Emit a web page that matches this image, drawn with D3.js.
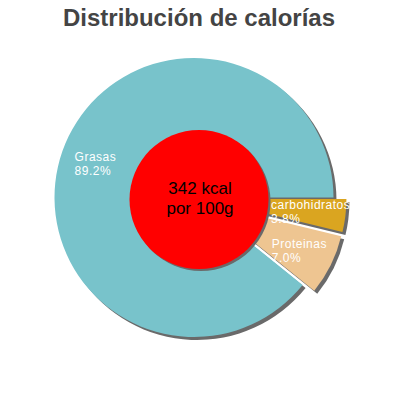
<!DOCTYPE html>
<html lang="es">
<head>
<meta charset="utf-8">
<title>Distribución de calorías</title>
<script src="https://cdnjs.cloudflare.com/ajax/libs/d3/7.8.5/d3.min.js"></script>
<style>
  body { margin: 0; background: #fff; }
  text { font-family: "Liberation Sans", Arial, sans-serif; }
</style>
</head>
<body>
<script>
// data, clockwise from 3 o'clock
var categories = ["carbohidratos", "Proteinas", "Grasas"];
var values = [3.8, 7.0, 89.2];
var colors = ["#daa520", "#eec591", "#78c3cb"];
var title = "Distribución de calorías";
var centerLines = ["342 kcal", "por 100g"];

var w = 400, h = 400;
var cx = 194, cy = 197.5, r = 139.5, rInner = 69.5;
var explode = 13;
var shadow = 3;

var svg = d3.select("body").append("svg")
    .attr("width", w)
    .attr("height", h);

svg.append("text")
    .attr("x", 199)
    .attr("y", 26)
    .attr("text-anchor", "middle")
    .attr("font-size", 24)
    .attr("font-weight", "bold")
    .attr("fill", "#444")
    .text(title);

var pie = d3.pie().sort(null)
    .startAngle(Math.PI / 2)
    .endAngle(Math.PI / 2 + 2 * Math.PI);
var arcs = pie(values);

var arc = d3.arc().innerRadius(0).outerRadius(r);
var labelArc = d3.arc().innerRadius(rInner).outerRadius(r);

var maxV = d3.max(values);
function offset(d) {
    if (d.value === maxV) return [0, 0];
    var a = (d.startAngle + d.endAngle) / 2 - Math.PI / 2;
    return [explode * Math.cos(a), explode * Math.sin(a)];
}

var g = svg.append("g").attr("transform", "translate(" + cx + "," + cy + ")");

// shadows
g.selectAll("path.shadow")
    .data(arcs)
    .enter()
    .append("path")
    .attr("class", "shadow")
    .attr("d", arc)
    .attr("fill", "#6a6a6a")
    .attr("transform", function(d) {
        var o = offset(d);
        return "translate(" + (o[0] + shadow) + "," + (o[1] + shadow) + ")";
    });

g.selectAll("path.slice")
    .data(arcs)
    .enter()
    .append("path")
    .attr("class", "slice")
    .attr("d", arc)
    .attr("fill", function(d, i) { return colors[i]; })
    .attr("transform", function(d) {
        var o = offset(d);
        return "translate(" + o[0] + "," + o[1] + ")";
    });

// labels: left aligned, first line centred on the slice centroid
var lab = g.selectAll("text.lab")
    .data(arcs)
    .enter()
    .append("text")
    .attr("class", "lab")
    .attr("font-size", 12)
    .attr("letter-spacing", 0.5)
    .attr("fill", "#fff")
    .attr("transform", function(d) {
        var o = offset(d), c = labelArc.centroid(d);
        return "translate(" + (c[0] + o[0]) + "," + (c[1] + o[1]) + ")";
    });
lab.append("tspan").attr("class", "name").attr("y", -2)
    .text(function(d, i) { return categories[i]; });
lab.append("tspan").attr("class", "pct").attr("y", 12)
    .text(function(d) { return d.value.toFixed(1) + "%"; });
lab.each(function() {
    var t = d3.select(this);
    var half = t.select("tspan.name").node().getComputedTextLength() / 2;
    t.selectAll("tspan").attr("x", -half);
});

// centre disc
g.append("circle")
    .attr("cx", 5 + 2).attr("cy", 2 + 2).attr("r", rInner)
    .attr("fill", "#6a6a6a");
g.append("circle")
    .attr("cx", 5).attr("cy", 2).attr("r", rInner)
    .attr("fill", "#ff0000");

g.append("text")
    .attr("text-anchor", "middle")
    .attr("font-size", 17)
    .attr("fill", "#000")
    .selectAll("tspan")
    .data(centerLines)
    .enter()
    .append("tspan")
    .attr("x", 6)
    .attr("y", function(d, i) { return -3.5 + i * 19.5; })
    .text(function(d) { return d; });
</script>
</body>
</html>
